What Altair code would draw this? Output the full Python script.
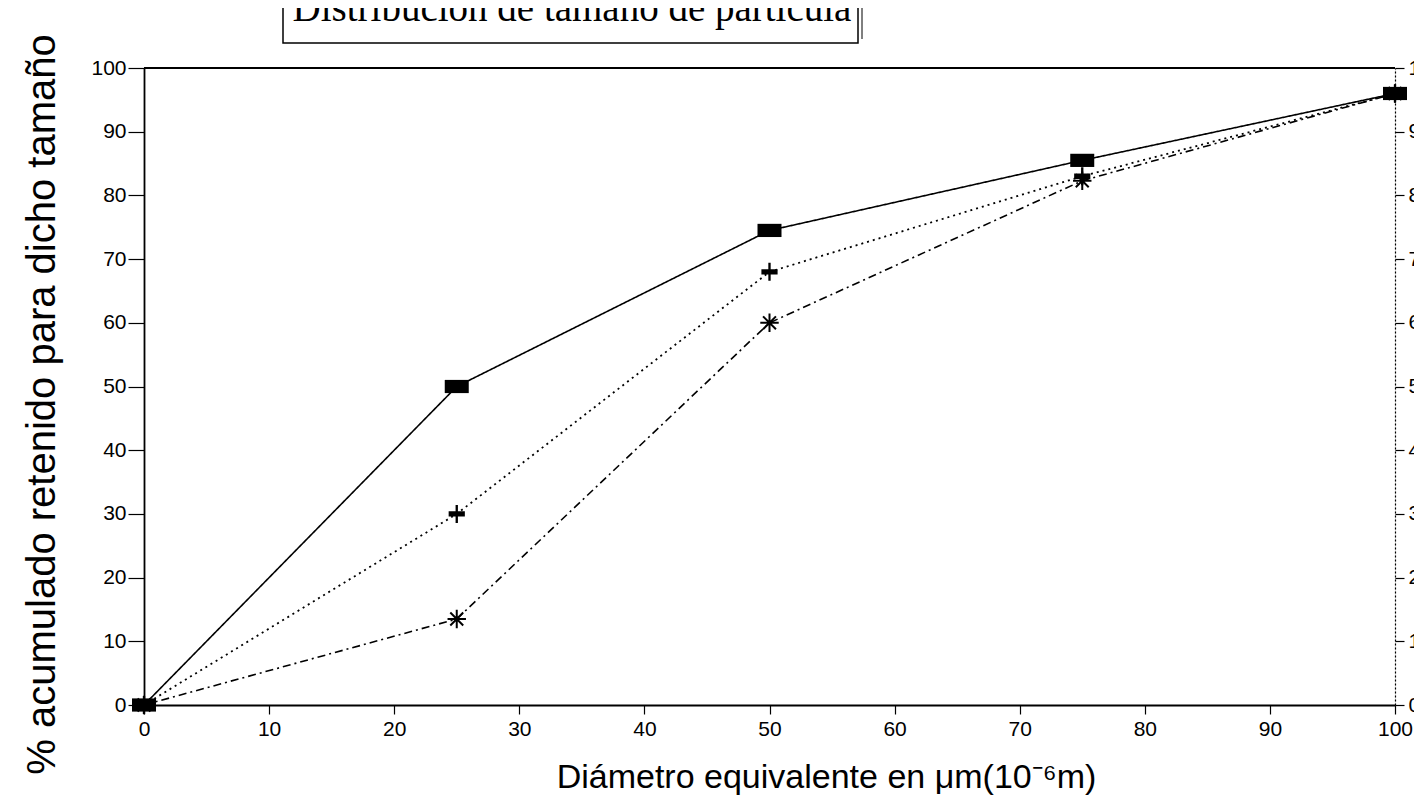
import altair as alt
import pandas as pd

# ---- data ----
diametro = [0, 25, 50, 75, 100]
serie_a = [0, 50, 74.5, 85.5, 96]   # solid line, square markers
serie_b = [0, 30, 68, 83, 96]       # dotted line, cross markers
serie_c = [0, 13.5, 60, 82.3, 96]   # dashed line, asterisk markers
x_ticks = [0, 10, 20, 30, 40, 50, 60, 70, 80, 90, 100]
y_ticks = [0, 10, 20, 30, 40, 50, 60, 70, 80, 90, 100]
titulo = "Distribución de tamaño de partícula"
titulo_x = "Diámetro equivalente en μm(10⁻⁶m)"
titulo_y = "% acumulado retenido para dicho tamaño"

W, H = 1251, 637
FONT = "Liberation Sans"

def frame(vals, name):
    return pd.DataFrame({"d": diametro, "v": vals, "s": [name] * len(vals)})

xs = alt.Scale(domain=[0, 100], nice=False, zero=False)
ys = alt.Scale(domain=[0, 100], nice=False)

x_axis = alt.Axis(values=x_ticks, title=titulo_x, orient="bottom", tickSize=9,
                  labelPadding=4, labelFontSize=21, labelFont=FONT,
                  labelColor="black", titleFont=FONT, titleFontSize=34,
                  titleFontWeight="normal", titleColor="black", titleX=682,
                  titleY=55, domainColor="black", domainWidth=1.8,
                  tickColor="black", tickWidth=1.2, grid=False,
                  labelFlush=False)
y_axis = alt.Axis(values=y_ticks, title=titulo_y, orient="left", tickSize=16,
                  labelPadding=2, labelFontSize=21, labelFont=FONT,
                  labelColor="black", titleFont=FONT, titleFontSize=40,
                  titleFontWeight="normal", titleColor="black", titleX=-82,
                  titleY=336, domainColor="black", domainWidth=1.8,
                  tickColor="black", tickWidth=1.2, grid=False,
                  labelFlush=False)
y_axis_r = alt.Axis(values=y_ticks, title=None, orient="right", tickSize=9,
                    labelPadding=4, labelFontSize=21, labelFont=FONT,
                    labelColor="black", domainColor="black", domainWidth=1.2,
                    domainDash=[2, 2], tickColor="black", tickWidth=1.2,
                    grid=False, labelFlush=False)

def line(df, dash, width, xaxis=None, yaxis=None):
    return alt.Chart(df).mark_line(color="black", strokeWidth=width,
                                   strokeDash=dash, clip=False).encode(
        x=alt.X("d:Q", scale=xs, axis=xaxis),
        y=alt.Y("v:Q", scale=ys, axis=yaxis),
    )

def pts(df, shape, size, filled, sw=1.0):
    return alt.Chart(df).mark_point(shape=shape, size=size, filled=filled,
                                    color="black", opacity=1, strokeWidth=sw,
                                    clip=False).encode(
        x=alt.X("d:Q", scale=xs, axis=None),
        y=alt.Y("v:Q", scale=ys, axis=None),
    )

dfa = frame(serie_a, "A")
dfb = frame(serie_b, "B")
dfc = frame(serie_c, "C")

sq = "M-1,-0.55H1V0.55H-1Z"
cr = "M-0.9,-0.3H0.9V0.3H-0.9Z M-0.13,-1H0.13V1H-0.13Z"
ast = "M-1,0H1M0,-1V1M-0.7,-0.7L0.7,0.7M-0.7,0.7L0.7,-0.7"

one = pd.DataFrame({"t": [titulo]})
top_rule = alt.Chart(one).mark_rule(color="black", strokeWidth=1.8).encode(
    x=alt.value(0), x2=alt.value(W), y=alt.value(0))
box = alt.Chart(one).mark_rect(fill="white", stroke="black", strokeWidth=1.5).encode(
    x=alt.value(139), x2=alt.value(714), y=alt.value(-90), y2=alt.value(-25))
shadow = alt.Chart(one).mark_rule(color="black", strokeWidth=1).encode(
    x=alt.value(718), y=alt.value(-88), y2=alt.value(-29))
title_txt = alt.Chart(one).mark_text(font="Liberation Serif", fontSize=39,
                                     align="center", baseline="alphabetic",
                                     color="black").encode(
    x=alt.value(428), y=alt.value(-47), text="t:N")

chart = alt.layer(
    line(dfc, [8, 4, 2, 4], 1.6, xaxis=x_axis, yaxis=y_axis),
    line(dfb, [2, 4], 1.8),
    line(dfa, [1, 0], 1.6, yaxis=y_axis_r),
    pts(dfa, sq, 576, True),
    pts(dfb, cr, 324, True),
    pts(dfc, ast, 340, False, sw=2),
    top_rule, box, shadow, title_txt,
).resolve_axis(x="independent", y="independent").properties(
    width=W, height=H,
    autosize=alt.AutoSizeParams(type="none"),
    padding={"left": 136, "top": 60, "right": 19, "bottom": 98},
).configure_view(stroke=None).configure(background="white")

chart.save("out.html", embed_options={"renderer": "svg", "actions": False})
